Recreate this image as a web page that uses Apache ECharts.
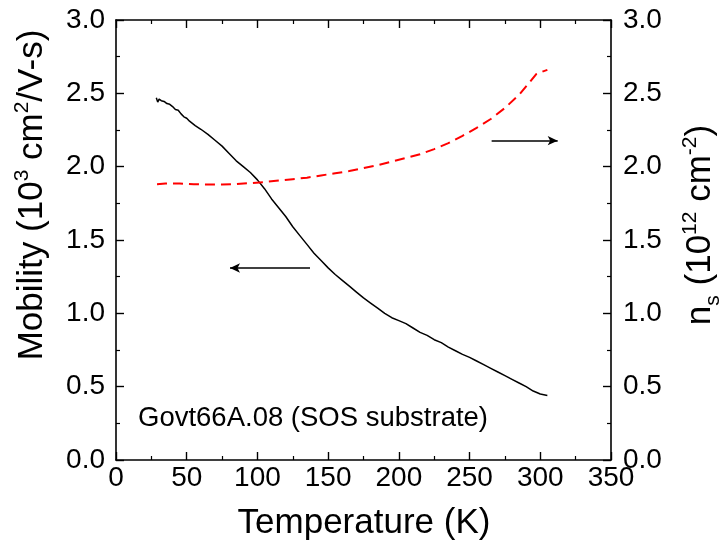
<!DOCTYPE html>
<html><head><meta charset="utf-8">
<script src="https://cdn.jsdelivr.net/npm/echarts@6/dist/echarts.min.js"></script>
<style>html,body{margin:0;padding:0;background:#fff}#c{width:724px;height:550px}</style>
</head><body><div id="c"></div>
<script>
// Mobility (10^3 cm^2/V-s) vs temperature (K)
const mobilityT = [28.5,29.5,30.5,32,34,36,38,40,42,44,46,48,50,52,54,56,60,65,70,75,80,85,90,95,100,105,110,115,120,125,130,135,140,145,150,155,160,165,170,175,180,185,190,195,200,205,210,215,220,225,230,235,240,245,250,255,260,265,270,275,280,285,290,295,300,305];
const mobilityV = [2.47,2.44,2.46,2.45,2.445,2.43,2.425,2.41,2.39,2.385,2.36,2.34,2.33,2.31,2.295,2.28,2.255,2.22,2.18,2.14,2.09,2.04,2.00,1.96,1.91,1.85,1.78,1.72,1.66,1.59,1.53,1.47,1.41,1.36,1.31,1.265,1.225,1.185,1.145,1.105,1.07,1.035,1.0,0.97,0.95,0.93,0.90,0.87,0.85,0.82,0.80,0.77,0.745,0.72,0.70,0.675,0.65,0.625,0.60,0.575,0.55,0.525,0.50,0.47,0.45,0.44];
// Sheet density n_s (10^12 cm^-2) vs temperature (K)
const densityT = [29,35,45,55,65,75,85,95,105,115,125,135,145,155,165,175,185,195,205,215,225,235,245,255,265,275,285,292,297,302,305];
const densityV = [1.88,1.885,1.885,1.88,1.878,1.878,1.882,1.888,1.895,1.905,1.915,1.925,1.94,1.955,1.97,1.99,2.01,2.035,2.06,2.085,2.12,2.16,2.21,2.265,2.325,2.40,2.49,2.57,2.63,2.65,2.66];
// Axis ranges / ticks
const xRange = [0, 350], xStep = 50;
const yRange = [0, 3.0], yStep = 0.5;
// Annotation arrows: [T start, T end, value]
const leftArrow = [137.2, 80.6, 1.309];
const rightArrow = [265.6, 312.3, 2.177];
const sampleLabel = 'Govt66A.08 (SOS substrate)';

const FONT = 'Liberation Sans, Arial, sans-serif';
const chart = echarts.init(document.getElementById('c'), null, {renderer: 'canvas'});
const axisCommon = {
  axisLine: {show: true, onZero: false, lineStyle: {color: '#000', width: 1.6}},
  axisTick: {show: true, inside: true, length: 8, lineStyle: {color: '#000', width: 1.4}},
  minorTick: {show: true, splitNumber: 2, length: 4, lineStyle: {color: '#000', width: 1.2}},
  splitLine: {show: false},
  axisLabel: {color: '#000', fontSize: 28, fontFamily: FONT}
};
const fmt1 = v => v.toFixed(1);
const option = {
  animation: false,
  backgroundColor: '#fff',
  grid: {left: 116, right: 113, top: 20, bottom: 90},
  xAxis: [
    Object.assign({}, axisCommon, {type: 'value', min: xRange[0], max: xRange[1], interval: xStep, position: 'bottom',
      axisLabel: Object.assign({}, axisCommon.axisLabel, {margin: 4})}),
    Object.assign({}, axisCommon, {type: 'value', min: xRange[0], max: xRange[1], interval: xStep, position: 'top',
      axisLabel: {show: false}})
  ],
  yAxis: [
    Object.assign({}, axisCommon, {type: 'value', min: yRange[0], max: yRange[1], interval: yStep, position: 'left',
      axisLabel: Object.assign({}, axisCommon.axisLabel, {margin: 11, formatter: fmt1})}),
    Object.assign({}, axisCommon, {type: 'value', min: yRange[0], max: yRange[1], interval: yStep, position: 'right',
      axisLabel: Object.assign({}, axisCommon.axisLabel, {margin: 12, formatter: fmt1})})
  ],
  series: [
    {
      type: 'line', xAxisIndex: 0, yAxisIndex: 0, showSymbol: false, symbol: 'none',
      data: mobilityT.map((t, i) => [t, mobilityV[i]]),
      lineStyle: {color: '#000', width: 1.5},
      markLine: {
        silent: true, symbol: ['none', 'arrow'], symbolSize: [7, 10],
        label: {show: false},
        lineStyle: {color: '#000', width: 1.5, type: 'solid'},
        data: [[{coord: [leftArrow[0], leftArrow[2]]}, {coord: [leftArrow[1], leftArrow[2]]}]]
      }
    },
    {
      type: 'line', xAxisIndex: 0, yAxisIndex: 1, showSymbol: false, symbol: 'none',
      data: densityT.map((t, i) => [t, densityV[i]]),
      lineStyle: {color: '#ff0000', width: 2, type: [10, 6]},
      markLine: {
        silent: true, symbol: ['none', 'arrow'], symbolSize: [7, 10],
        label: {show: false},
        lineStyle: {color: '#000', width: 1.5, type: 'solid'},
        data: [[{coord: [rightArrow[0], rightArrow[2]]}, {coord: [rightArrow[1], rightArrow[2]]}]]
      }
    }
  ],
  graphic: [
    {type: 'text', x: 364, y: 523, style: {text: 'Temperature (K)', fontSize: 35, fontFamily: FONT, fill: '#000', align: 'center', verticalAlign: 'middle', textAlign: 'center', textVerticalAlign: 'middle'}},
    {type: 'text', x: 31, y: 195, rotation: Math.PI / 2, style: {
      text: '{b|Mobility (10}{p|3}{b| cm}{p|2}{b|/V-s)}', align: 'center', verticalAlign: 'middle', textAlign: 'center', textVerticalAlign: 'middle', fill: '#000',
      rich: {b: {fontSize: 35, fontFamily: FONT, lineHeight: 38, verticalAlign: 'bottom', fill: '#000'}, p: {fontSize: 21, fontFamily: FONT, lineHeight: 21, verticalAlign: 'top', fill: '#000'}}
    }},
    {type: 'text', x: 699, y: 225, rotation: Math.PI / 2, style: {
      text: '{b|n}{s|s}{b| (10}{p|12}{b| cm}{p|-2}{b|)}', align: 'center', verticalAlign: 'middle', textAlign: 'center', textVerticalAlign: 'middle', fill: '#000',
      rich: {b: {fontSize: 35, fontFamily: FONT, lineHeight: 38, verticalAlign: 'bottom', fill: '#000'}, p: {fontSize: 21, fontFamily: FONT, lineHeight: 21, verticalAlign: 'top', fill: '#000'}, s: {fontSize: 21, fontFamily: FONT, lineHeight: 21, verticalAlign: 'bottom', fill: '#000', padding: [0, 0, -6, 0]}}
    }},
    {type: 'text', x: 138, y: 418, style: {text: sampleLabel, fontSize: 27.5, fontFamily: FONT, fill: '#000', align: 'left', verticalAlign: 'middle', textAlign: 'left', textVerticalAlign: 'middle'}}
  ]
};
chart.setOption(option);
</script>
</body></html>
